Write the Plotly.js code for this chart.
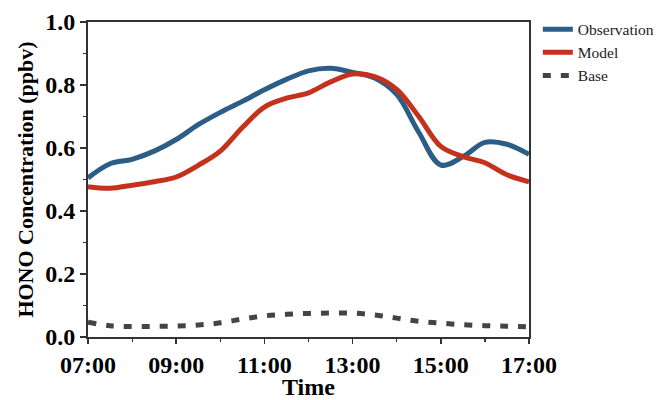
<!DOCTYPE html>
<html>
<head>
<meta charset="utf-8">
<script src="https://cdn.plot.ly/plotly-3.0.1.min.js"></script>
<style>html,body{margin:0;padding:0;background:#fff;}#chart{width:657px;height:400px;}</style>
</head>
<body>
<div id="chart"></div>
<script>
const hours = [7, 7.5, 8, 8.5, 9, 9.5, 10, 10.5, 11, 11.5, 12, 12.5, 13, 13.5, 14, 14.5, 15, 15.5, 16, 16.5, 17];
const observation = [0.505, 0.55, 0.564, 0.59, 0.627, 0.674, 0.713, 0.748, 0.785, 0.818, 0.845, 0.853, 0.84, 0.822, 0.77, 0.65, 0.546, 0.572, 0.618, 0.612, 0.58];
const model = [0.477, 0.472, 0.482, 0.493, 0.508, 0.545, 0.59, 0.665, 0.73, 0.758, 0.775, 0.81, 0.835, 0.827, 0.786, 0.70, 0.605, 0.573, 0.553, 0.515, 0.493];
const base = [0.047, 0.036, 0.033, 0.034, 0.035, 0.038, 0.045, 0.057, 0.067, 0.072, 0.075, 0.076, 0.076, 0.07, 0.06, 0.05, 0.044, 0.039, 0.036, 0.034, 0.032];
const tickHours = [7, 9, 11, 13, 15, 17];
const tickLabels = ["07:00", "09:00", "11:00", "13:00", "15:00", "17:00"];

const serif = "Liberation Serif, Times New Roman, serif";
const traces = [
  {x: hours, y: observation, name: "Observation", mode: "lines",
   line: {color: "#2c5d86", width: 5, shape: "spline", smoothing: 1}},
  {x: hours, y: model, name: "Model", mode: "lines",
   line: {color: "#c4321e", width: 5, shape: "spline", smoothing: 1}},
  {x: hours, y: base, name: "Base", mode: "lines",
   line: {color: "#444444", width: 5, shape: "spline", smoothing: 1, dash: "8px,10px"}}
];
const layout = {
  width: 657, height: 400,
  margin: {l: 88, r: 128, t: 22, b: 63, autoexpand: false},
  paper_bgcolor: "#fff", plot_bgcolor: "#fff",
  font: {family: serif, color: "#000"},
  showlegend: true,
  legend: {x: 1.02, y: 1.03, xanchor: "left", yanchor: "top",
           font: {family: serif, size: 15.5, color: "#222"},
           bgcolor: "rgba(0,0,0,0)", tracegroupgap: 0},
  xaxis: {
    range: [7, 17], tickmode: "array", tickvals: tickHours, ticktext: tickLabels,
    ticks: "outside", ticklen: 5, tickwidth: 1.5, tickcolor: "#333",
    minor: {dtick: 1, tick0: 7, ticks: "outside", ticklen: 3, tickwidth: 1.2, tickcolor: "#333", showgrid: false},
    showline: true, linecolor: "#333", linewidth: 2, mirror: true,
    showgrid: false, zeroline: false,
    tickfont: {family: serif, size: 24, color: "#000", weight: "bold"},
    title: {text: "<b>Time</b>", font: {family: serif, size: 24, color: "#000"}, standoff: 4}
  },
  yaxis: {
    range: [0, 1.0], dtick: 0.2, tickformat: ".1f",
    ticks: "outside", ticklen: 6, tickwidth: 1.5, tickcolor: "#333",
    minor: {dtick: 0.1, ticks: "outside", ticklen: 3, tickwidth: 1.2, tickcolor: "#333", showgrid: false},
    showline: true, linecolor: "#333", linewidth: 2, mirror: true,
    showgrid: false, zeroline: false,
    tickfont: {family: serif, size: 24, color: "#000", weight: "bold"},
    title: {text: "<b>HONO Concentration (ppbv)</b>", font: {family: serif, size: 22, color: "#000"}, standoff: 6}
  }
};
Plotly.newPlot("chart", traces, layout, {displayModeBar: false, staticPlot: true});
</script>
</body>
</html>
